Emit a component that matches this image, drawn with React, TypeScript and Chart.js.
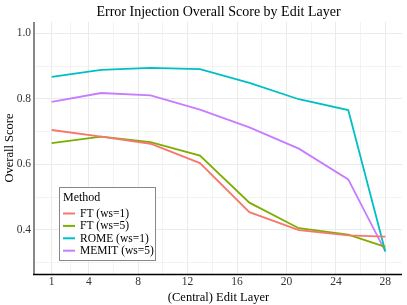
import React, { useEffect, useRef } from "react";
import { Chart, registerables } from "chart.js";

Chart.register(...registerables);

const layers = [1, 5, 9, 13, 17, 21, 25, 28];
const ftWs1 = [0.705, 0.685, 0.663, 0.604, 0.454, 0.399, 0.383, 0.379];
const ftWs5 = [0.665, 0.685, 0.668, 0.627, 0.483, 0.405, 0.385, 0.348];
const romeWs1 = [0.867, 0.889, 0.895, 0.891, 0.849, 0.799, 0.766, 0.334];
const memitWs5 = [0.791, 0.818, 0.811, 0.767, 0.713, 0.648, 0.554, 0.334];
const seriesNames = ["FT (ws=1)", "FT (ws=5)", "ROME (ws=1)", "MEMIT (ws=5)"];
const seriesColors = ["#F8766D", "#7CAE00", "#00BFC4", "#C77CFF"];
const xMajorTicks = [1, 4, 8, 12, 16, 20, 24, 28];
const xMinorTicks = [2.5, 6, 10, 14, 18, 22, 26];
const yMajorTicks = [0.4, 0.6, 0.8, 1.0];
const yMinorTicks = [0.3, 0.5, 0.7, 0.9];

const FONT = "'Liberation Serif', 'Times New Roman', serif";

export default function App() {
  const ref = useRef<HTMLCanvasElement>(null);
  useEffect(() => {
    if (!ref.current) return;
    const allSeries = [ftWs1, ftWs5, romeWs1, memitWs5];
    const isMajorX = (v: number) => xMajorTicks.some((t) => Math.abs(t - v) < 1e-6);
    const isMajorY = (v: number) => yMajorTicks.some((t) => Math.abs(t - v) < 1e-6);

    const overlay = {
      id: "overlay",
      afterDraw(chart: any) {
        const { ctx, chartArea } = chart;
        ctx.save();
        // title
        ctx.fillStyle = "#000";
        ctx.font = `14px ${FONT}`;
        ctx.textAlign = "center";
        ctx.textBaseline = "middle";
        ctx.fillText("Error Injection Overall Score by Edit Layer", 218.5, 12);
        // axis lines
        ctx.strokeStyle = "#888888";
        ctx.lineWidth = 2;
        ctx.beginPath();
        ctx.moveTo(chartArea.left - 1, chartArea.top);
        ctx.lineTo(chartArea.left - 1, chartArea.bottom);
        ctx.stroke();
        ctx.strokeStyle = "#000";
        ctx.lineWidth = 1.5;
        ctx.beginPath();
        ctx.moveTo(chartArea.left - 2, chartArea.bottom + 0.5);
        ctx.lineTo(chartArea.right, chartArea.bottom + 0.5);
        ctx.stroke();
        // legend
        const lx = 59.5, ly = 187.5, lw = 96, lh = 73;
        ctx.fillStyle = "#ffffff";
        ctx.fillRect(lx, ly, lw, lh);
        ctx.strokeStyle = "#888888";
        ctx.lineWidth = 1;
        ctx.strokeRect(lx, ly, lw, lh);
        ctx.fillStyle = "#000";
        ctx.textAlign = "left";
        ctx.font = `12px ${FONT}`;
        ctx.fillText("Method", 63, 198);
        seriesNames.forEach((name, i) => {
          const y = 213.5 + i * 12.4;
          ctx.strokeStyle = seriesColors[i];
          ctx.lineWidth = 2;
          ctx.beginPath();
          ctx.moveTo(63, y);
          ctx.lineTo(75, y);
          ctx.stroke();
          ctx.fillStyle = "#000";
          ctx.font = `11.5px ${FONT}`;
          ctx.fillText(name, 80, y + 0.5);
        });
        ctx.restore();
      },
    };

    const chart = new Chart(ref.current, {
      type: "line",
      data: {
        datasets: allSeries.map((vals, i) => ({
          label: seriesNames[i],
          data: layers.map((x, j) => ({ x, y: vals[j] })),
          borderColor: seriesColors[i],
          backgroundColor: seriesColors[i],
          borderWidth: 1.8,
          pointRadius: 0,
          tension: 0,
        })),
      },
      options: {
        animation: false,
        responsive: false,
        layout: { padding: { top: 22, right: 5, left: 0, bottom: 0 } },
        plugins: { legend: { display: false }, title: { display: false }, tooltip: { enabled: false } },
        scales: {
          x: {
            type: "linear",
            min: -0.35,
            max: 29.35,
            afterBuildTicks: (s: any) => {
              s.ticks = [...xMajorTicks, ...xMinorTicks].sort((a, b) => a - b).map((v) => ({ value: v }));
            },
            afterFit: (s: any) => {
              s.height = 31;
            },
            border: { display: false },
            grid: {
              color: "#ebebeb",
              lineWidth: (c: any) => (isMajorX(c.tick?.value) ? 1 : 0.6),
              drawTicks: false,
            },
            ticks: {
              autoSkip: false,
              maxRotation: 0,
              padding: 1,
              color: "#333",
              font: { family: FONT, size: 11.5 },
              callback: (v: any) => (isMajorX(Number(v)) ? String(v) : ""),
            },
            title: {
              display: true,
              text: "(Central) Edit Layer",
              color: "#000",
              font: { family: FONT, size: 12.5 },
              padding: { top: 2, bottom: 0 },
            },
          },
          y: {
            type: "linear",
            min: 0.265,
            max: 1.035,
            afterBuildTicks: (s: any) => {
              s.ticks = [...yMajorTicks, ...yMinorTicks].sort((a, b) => a - b).map((v) => ({ value: v }));
            },
            afterFit: (s: any) => {
              s.width = 35;
            },
            border: { display: false },
            grid: {
              color: "#ebebeb",
              lineWidth: (c: any) => (isMajorY(c.tick?.value) ? 1 : 0.6),
              drawTicks: false,
            },
            ticks: {
              autoSkip: false,
              padding: 4,
              color: "#333",
              font: { family: FONT, size: 11.5 },
              callback: (v: any) => (isMajorY(Number(v)) ? Number(v).toFixed(1) : ""),
            },
            title: {
              display: true,
              text: "Overall Score",
              color: "#000",
              font: { family: FONT, size: 12.5 },
              padding: { top: 2, bottom: 0 },
            },
          },
        },
      },
      plugins: [overlay],
    } as any);
    return () => chart.destroy();
  }, []);
  return (
    <div style={{ position: "fixed", left: 0, top: 0, width: 407, height: 305, background: "#fff" }}>
      <canvas ref={ref} width={407} height={305} />
    </div>
  );
}
